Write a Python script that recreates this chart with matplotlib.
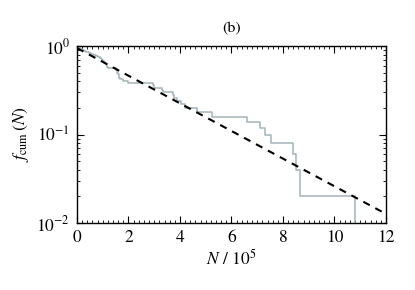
import matplotlib
matplotlib.use('Agg')
import matplotlib.pyplot as plt
from matplotlib.ticker import MultipleLocator, LogLocator, NullFormatter
import numpy as np

plt.rcParams['font.family'] = 'STIXGeneral'
plt.rcParams['mathtext.fontset'] = 'stix'
plt.rcParams['font.size'] = 12.5

# event sizes N (in units of 10^5), 50 events, sorted
events = [0.00, 0.01, 0.03, 0.10, 0.18, 0.26, 0.35, 0.45, 0.55, 0.63,
          0.72, 0.80, 0.88, 0.93, 0.96, 1.02, 1.06, 1.09, 1.12, 1.15,
          1.18, 1.22, 1.50, 1.54, 1.57, 1.60, 1.62, 1.65, 1.67, 1.80,
          2.00, 2.94, 2.98, 3.29, 3.33, 3.74, 3.78, 3.90, 4.05, 4.20,
          4.68, 5.24, 6.59, 7.11, 7.29, 7.53, 8.38, 8.50, 8.68, 10.80]

# exponential fit  f = A exp(-N / tau)
fit_A = 0.95
fit_tau = 2.78

n_ev = np.sort(np.array(events))
f_cum = 1.0 - np.arange(1, len(n_ev) + 1) / len(n_ev)
step_n = np.concatenate([[0.0], n_ev])
step_f = np.concatenate([[1.0], f_cum])

fig = plt.figure(figsize=(4.15, 2.9), dpi=100)
ax = fig.add_axes([0.1855, 0.231, 0.7445, 0.61])

ax.step(step_n, step_f, where='post', color='#a3b3b6', lw=1.1)
xx = np.linspace(0, 12, 200)
ax.plot(xx, fit_A * np.exp(-xx / fit_tau), color='black', lw=1.5,
        dashes=(3.5, 3))

ax.set_yscale('log')
ax.set_xlim(0, 12)
ax.set_ylim(0.01, 1)
ax.xaxis.set_major_locator(MultipleLocator(2))
ax.xaxis.set_minor_locator(MultipleLocator(0.2))
ax.yaxis.set_minor_locator(LogLocator(base=10, subs=np.arange(2, 10)))
ax.yaxis.set_minor_formatter(NullFormatter())
ax.tick_params(which='both', direction='in', top=True, right=True)
ax.tick_params(which='major', length=5, width=0.8, pad=5)
ax.tick_params(which='minor', length=2.5, width=0.6)
for s in ax.spines.values():
    s.set_linewidth(1.0)

ax.set_xlabel(r'$N$ / 10$^5$', labelpad=2)
ax.set_ylabel(r'$f_{\rm cum}\,(N)$', labelpad=4)
ax.set_title('(b)', fontsize=11.5, pad=10)

fig.savefig('out.png', dpi=100)
